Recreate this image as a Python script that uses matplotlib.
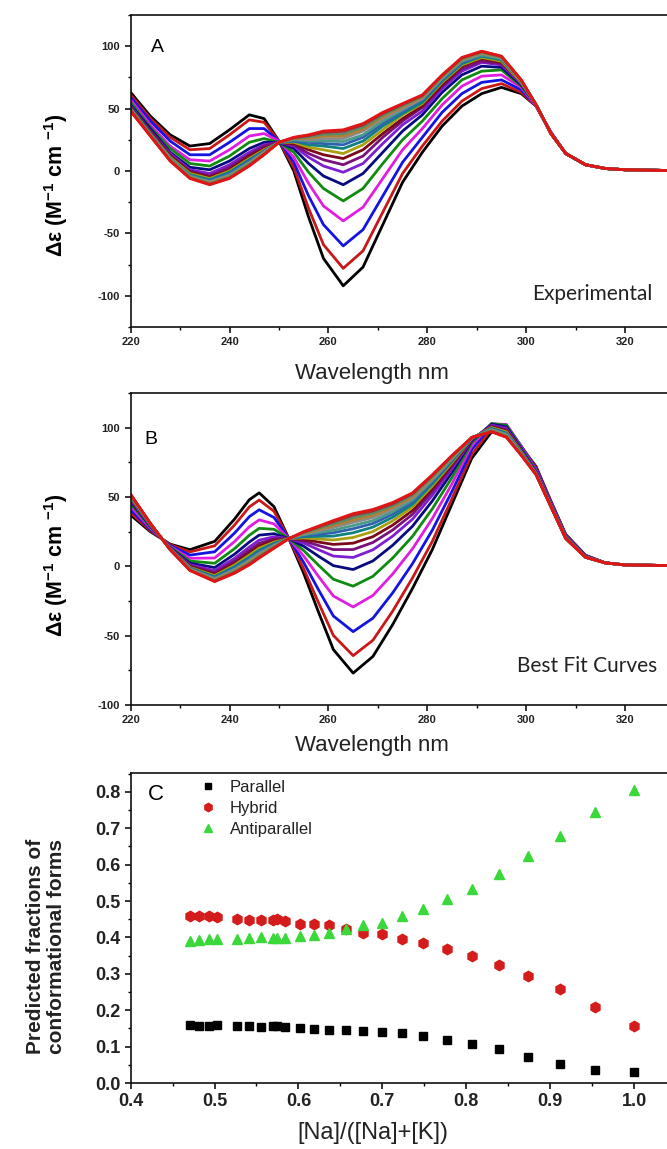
import matplotlib
matplotlib.use('Agg')
import matplotlib.pyplot as plt
from matplotlib import font_manager
from matplotlib.ticker import MultipleLocator

# ---------------- data ----------------
wavelength_a = [220, 224, 228, 232, 236, 240, 244, 247, 250, 253, 256, 259, 263, 267, 271,
                275, 279, 283, 287, 291, 295, 299, 302, 305, 308, 312, 316, 320, 330, 340]

cd_experimental = [
    [63, 44, 29, 20, 22, 33, 45, 42, 24, 0, -37, -70, -92, -77, -43, -9, 15, 36, 52, 62, 67, 62, 52, 31, 14, 5, 2, 1, 0.3, 0],
    [61, 42, 27, 17, 18, 29, 41, 39, 24, 3, -30, -59, -78, -64, -33, -2, 20, 40, 56, 66, 70, 63, 52, 31, 14, 5, 2, 1, 0.3, 0],
    [59, 40, 24, 13, 13, 23, 34, 34, 24, 7, -20, -43, -60, -47, -20, 7, 27, 47, 62, 71, 73, 65, 52, 31, 14, 5, 2, 1, 0.3, 0],
    [57, 37, 20, 9, 8, 17, 28, 30, 24, 11, -10, -28, -40, -29, -6, 17, 34, 53, 68, 76, 77, 67, 52, 31, 14, 5, 2, 1, 0.3, 0],
    [55, 35, 18, 6, 4, 12, 23, 26, 23, 15, -1, -14, -24, -14, 6, 25, 40, 58, 73, 80, 81, 68, 53, 30, 14, 5, 2, 1, 0.3, 0],
    [53, 34, 15, 3, 1, 8, 18, 23, 23, 18, 6, -4, -11, -2, 15, 32, 45, 63, 77, 84, 83, 69, 53, 30, 14, 5, 2, 1, 0.3, 0],
    [52, 32, 14, 1, -2, 5, 15, 21, 23, 20, 11, 4, -1, 6, 22, 37, 48, 66, 80, 87, 85, 70, 53, 30, 14, 5, 2, 1, 0.3, 0],
    [51, 32, 13, 0, -4, 3, 13, 20, 23, 21, 14, 9, 5, 12, 27, 40, 51, 68, 82, 88, 86, 71, 53, 30, 14, 5, 2, 1, 0.3, 0],
    [51, 31, 12, -1, -5, 1, 12, 18, 23, 22, 17, 13, 10, 17, 30, 42, 52, 69, 84, 90, 87, 71, 53, 30, 14, 5, 2, 1, 0.3, 0],
    [50, 30, 11, -2, -6, 0, 10, 17, 23, 23, 19, 17, 14, 21, 33, 45, 54, 71, 85, 91, 88, 71, 53, 30, 14, 5, 2, 1, 0.3, 0],
    [50, 30, 10, -3, -7, -1, 9, 16, 23, 24, 21, 20, 18, 24, 36, 46, 55, 72, 86, 92, 89, 72, 53, 30, 14, 5, 2, 1, 0.3, 0],
    [49, 29, 10, -4, -8, -2, 8, 16, 23, 24, 23, 22, 21, 27, 38, 48, 57, 73, 87, 93, 90, 72, 53, 30, 14, 5, 2, 1, 0.3, 0],
    [49, 29, 10, -4, -8.5, -3, 7, 15, 23, 25, 24, 24, 23.6, 29, 40, 49, 58, 74, 88, 93, 90, 72, 53, 30, 14, 5, 2, 1, 0.3, 0],
    [49, 29, 9, -5, -9, -4, 6, 15, 23, 26, 25, 26, 26, 32, 42, 50, 58, 75, 89, 94, 91, 72, 53, 30, 14, 5, 2, 1, 0.3, 0],
    [48.6, 28.6, 8.8, -5, -9.7, -4.4, 5.6, 14.2, 23, 25.9, 26.4, 27.9, 28, 33.4, 43.4, 51.5, 59.2, 75.4, 89.4, 94.6, 91, 72.6, 53, 30, 14, 5, 2, 1, 0.3, 0],
    [48.4, 28.4, 8.5, -5.4, -10.2, -5, 5, 13.7, 23, 26.3, 27.4, 29.5, 29.9, 35.1, 44.8, 52.4, 59.9, 76, 90, 95.2, 91.4, 72.7, 53, 30, 14, 5, 2, 1, 0.3, 0],
    [48.2, 28.2, 8.2, -5.7, -10.7, -5.6, 4.4, 13.3, 23, 26.7, 28.3, 31, 31.8, 36.9, 46.1, 53.4, 60.5, 76.6, 90.6, 95.7, 91.8, 72.9, 53, 30, 14, 5, 2, 1, 0.3, 0],
    [48, 28, 8, -6, -11, -6, 4, 13, 23, 27, 29, 32, 33, 38, 47, 54, 61, 77, 91, 96, 92, 73, 53, 30, 14, 5, 2, 1, 0.3, 0],
]

wavelength_b = [220, 224, 228, 232, 237, 241, 244, 246, 249, 252, 255, 258, 261, 265, 269,
                273, 277, 281, 285, 289, 293, 296, 299, 302, 305, 308, 312, 316, 320, 340]

cd_best_fit = [
    [37, 25, 16, 12, 18, 34, 48, 53, 43, 20, -5, -33, -60, -77, -65, -42, -16, 12, 45, 78, 97, 99, 86, 72, 47, 23, 8, 2.5, 1, 0],
    [38.7, 25.7, 15.6, 10.4, 14.8, 29.7, 42.8, 47.8, 39.7, 20, -1.7, -26.2, -49.8, -64.4, -53.3, -32.3, -8.4, 17.9, 48.9, 80.8, 99.3, 100.6, 86.5, 71.3, 46.6, 22.7, 7.8, 2.5, 1, 0],
    [40.9, 26.6, 15, 8.1, 10.5, 23.9, 35.8, 40.8, 35.2, 20, 2.8, -16.9, -35.8, -47.1, -37.4, -19.1, 1.9, 26, 54.1, 84.2, 101.6, 102, 86.7, 70.4, 46, 22.2, 7.6, 2.5, 1, 0],
    [43.2, 27.5, 14.3, 5.8, 6, 17.8, 28.5, 33.5, 30.6, 20, 7.5, -7.3, -21.4, -29.3, -21, -5.5, 12.6, 34.4, 59.5, 87.1, 102.8, 102.3, 86.4, 69.5, 45.3, 21.8, 7.4, 2.5, 1, 0],
    [45.2, 28.3, 13.8, 3.8, 2.2, 12.7, 22.4, 27.4, 26.7, 20, 11.4, 0.8, -9.3, -14.3, -7.2, 6, 21.6, 41.4, 64.1, 89.2, 103, 101.7, 85.7, 68.7, 44.8, 21.4, 7.2, 2.5, 1, 0],
    [46.8, 28.9, 13.4, 2.3, -0.9, 8.7, 17.5, 22.5, 23.5, 20, 14.5, 7.3, 0.5, -2.3, 3.9, 15.2, 28.9, 47.1, 67.8, 90.5, 102.5, 100.6, 84.9, 68.1, 44.4, 21.1, 7, 2.5, 1, 0],
    [47.9, 29.4, 13.1, 1.1, -3, 5.7, 13.9, 18.9, 21.3, 20, 16.8, 12, 7.4, 6.4, 11.9, 21.8, 34, 51.2, 70.4, 91.3, 101.8, 99.5, 84.1, 67.7, 44.1, 20.8, 6.9, 2.5, 1, 0],
    [48.6, 29.7, 12.9, 0.4, -4.5, 3.8, 11.6, 16.6, 19.8, 20, 18.3, 15, 12.1, 12.1, 17.2, 26.2, 37.5, 53.9, 72.1, 91.7, 101.2, 98.6, 83.5, 67.4, 43.9, 20.7, 6.8, 2.5, 1, 0],
    [49.2, 29.9, 12.7, -0.2, -5.6, 2.2, 9.7, 14.7, 18.6, 20, 19.5, 17.5, 15.8, 16.7, 21.4, 29.7, 40.2, 56, 73.5, 92, 100.6, 97.7, 82.9, 67.1, 43.7, 20.6, 6.8, 2.5, 1, 0],
    [49.8, 30.1, 12.6, -0.8, -6.7, 0.9, 8.1, 13.1, 17.5, 20, 20.5, 19.7, 19, 20.8, 25.1, 32.8, 42.7, 57.9, 74.8, 92.3, 100.1, 97, 82.5, 66.9, 43.6, 20.5, 6.7, 2.5, 1, 0],
    [50.2, 30.3, 12.5, -1.2, -7.5, -0.3, 6.6, 11.6, 16.6, 20, 21.4, 21.6, 21.8, 24.2, 28.3, 35.4, 44.7, 59.5, 75.8, 92.5, 99.5, 96.2, 82, 66.7, 43.5, 20.4, 6.7, 2.5, 1, 0],
    [50.6, 30.4, 12.4, -1.6, -8.2, -1.3, 5.5, 10.5, 15.9, 20, 22.2, 23.1, 24.2, 27.1, 30.9, 37.6, 46.4, 60.9, 76.7, 92.7, 99.1, 95.7, 81.7, 66.6, 43.4, 20.3, 6.6, 2.5, 1, 0],
    [50.9, 30.6, 12.3, -1.9, -8.8, -2.1, 4.5, 9.5, 15.3, 20, 22.8, 24.4, 26, 29.4, 33, 39.4, 47.8, 62, 77.4, 92.8, 98.7, 95.2, 81.3, 66.5, 43.3, 20.2, 6.6, 2.5, 1, 0],
    [51.2, 30.7, 12.2, -2.2, -9.4, -2.9, 3.6, 8.6, 14.7, 20, 23.4, 25.6, 27.9, 31.7, 35.2, 41.2, 49.2, 63, 78.1, 92.8, 98.2, 94.5, 80.9, 66.3, 43.2, 20.2, 6.6, 2.5, 1, 0],
    [51.4, 30.8, 12.2, -2.4, -9.8, -3.4, 2.9, 7.9, 14.2, 20, 23.8, 26.5, 29.3, 33.4, 36.8, 42.5, 50.2, 63.8, 78.6, 92.9, 97.9, 94.1, 80.7, 66.2, 43.2, 20.1, 6.6, 2.5, 1, 0],
    [51.6, 30.9, 12.1, -2.6, -10.3, -4, 2.2, 7.2, 13.8, 20, 24.3, 27.5, 30.7, 35.1, 38.4, 43.8, 51.3, 64.7, 79.1, 92.9, 97.6, 93.8, 80.5, 66.2, 43.1, 20.1, 6.5, 2.5, 1, 0],
    [51.9, 30.9, 12, -2.9, -10.7, -4.6, 1.5, 6.5, 13.3, 20, 24.7, 28.4, 32.1, 36.9, 39.9, 45.1, 52.3, 65.5, 79.7, 92.9, 97.2, 93.3, 80.2, 66.1, 43, 20, 6.5, 2.5, 1, 0],
    [52, 31, 12, -3, -11, -5, 1, 6, 13, 20, 25, 29, 33, 38, 41, 46, 53, 66, 80, 93, 97, 93, 80, 66, 43, 20, 6.5, 2.5, 1, 0],
]

curve_colors = ['#000000', '#c81818', '#1414e0', '#e01ee0', '#108a10', '#0a0a80',
                '#7f1fd0', '#7a107a', '#7a0a1a', '#a8a010', '#108080', '#3060b0',
                '#4a9a8a', '#8a8a8a', '#b08030', '#5a8a6a', '#a03030', '#e01515']

na_fraction = [0.471, 0.482, 0.493, 0.503, 0.527, 0.541, 0.555, 0.570, 0.574, 0.584,
               0.602, 0.618, 0.637, 0.657, 0.677, 0.700, 0.724, 0.749, 0.777, 0.807,
               0.839, 0.874, 0.912, 0.954, 1.000]
frac_parallel = [0.160, 0.156, 0.158, 0.159, 0.158, 0.157, 0.154, 0.156, 0.157, 0.153,
                 0.151, 0.149, 0.147, 0.145, 0.143, 0.140, 0.137, 0.128, 0.119, 0.107,
                 0.093, 0.072, 0.052, 0.036, 0.031]
frac_hybrid = [0.460, 0.459, 0.458, 0.457, 0.451, 0.449, 0.448, 0.448, 0.450, 0.444,
               0.438, 0.436, 0.433, 0.423, 0.413, 0.409, 0.396, 0.385, 0.368, 0.350,
               0.325, 0.295, 0.258, 0.209, 0.156]
frac_antiparallel = [0.390, 0.392, 0.395, 0.396, 0.397, 0.399, 0.400, 0.398, 0.399, 0.398,
                     0.404, 0.406, 0.411, 0.423, 0.434, 0.441, 0.459, 0.479, 0.505, 0.534,
                     0.575, 0.623, 0.680, 0.746, 0.806]
series_labels = ['Parallel', 'Hybrid', 'Antiparallel']

# ---------------- styling ----------------
names = {f.name for f in font_manager.fontManager.ttflist}
SANS = 'Liberation Sans' if 'Liberation Sans' in names else 'DejaVu Sans'
NARROW = 'Liberation Sans Narrow' if 'Liberation Sans Narrow' in names else SANS
CAL = 'Lato' if 'Lato' in names else SANS

plt.rcParams['font.family'] = [SANS, 'DejaVu Sans']
plt.rcParams['axes.unicode_minus'] = False
plt.rcParams['mathtext.fontset'] = 'custom'
plt.rcParams['mathtext.rm'] = SANS + ':bold'
plt.rcParams['mathtext.it'] = SANS + ':bold'
plt.rcParams['mathtext.bf'] = SANS + ':bold'

W, H = 667, 1149
fig = plt.figure(figsize=(W / 100, H / 100), dpi=100)


def box(left, top, right, bottom):
    return [left / W, 1 - bottom / H, (right - left) / W, (bottom - top) / H]


def style_axes(ax, tick_font, tick_size):
    for s in ax.spines.values():
        s.set_linewidth(1.2)
        s.set_color('#111111')
    ax.tick_params(which='major', direction='out', length=4.5, width=1.1, pad=3)
    ax.tick_params(which='minor', direction='out', length=2.5, width=1.0)
    ax.tick_params(top=False, right=False, which='both')
    for lab in ax.get_xticklabels() + ax.get_yticklabels():
        lab.set_fontfamily(tick_font)
        lab.set_fontweight('bold')
        lab.set_fontsize(tick_size)
        lab.set_color('#222222')


def cd_panel(ax, wl, spectra, ylim):
    for spec, col in zip(spectra, curve_colors):
        ax.plot(wl, spec, color=col, lw=2.0, solid_joinstyle='round',
                solid_capstyle='round')
    ax.set_xlim(220, 340)
    ax.set_ylim(*ylim)
    ax.set_xticks([220, 240, 260, 280, 300, 320])
    ax.xaxis.set_minor_locator(MultipleLocator(10))
    ax.set_yticks([-100, -50, 0, 50, 100])
    ax.yaxis.set_minor_locator(MultipleLocator(25))
    style_axes(ax, NARROW, 8)


# Panel A
axA = fig.add_axes(box(130.6, 15, 724, 327))
cd_panel(axA, wavelength_a, cd_experimental, (-125, 125))
# Panel B
axB = fig.add_axes(box(130.6, 393, 724, 705))
cd_panel(axB, wavelength_b, cd_best_fit, (-100, 125))

ylab = 'Δε (M$^{-1}$ cm $^{-1}$)'
fig.text(56 / W, 1 - 185 / H, ylab, rotation=90, ha='center', va='center',
         fontsize=15.5, fontweight='bold', family=SANS)
fig.text(56 / W, 1 - 565 / H, ylab, rotation=90, ha='center', va='center',
         fontsize=15.5, fontweight='bold', family=SANS)
fig.text(372 / W, 1 - 373 / H, 'Wavelength nm', ha='center', va='center',
         fontsize=16, family=SANS, color='#222222')
fig.text(372 / W, 1 - 746 / H, 'Wavelength nm', ha='center', va='center',
         fontsize=16, family=SANS, color='#222222')
fig.text(157 / W, 1 - 47 / H, 'A', ha='center', va='center', fontsize=14, family=SANS)
fig.text(151 / W, 1 - 439 / H, 'B', ha='center', va='center', fontsize=14, family=SANS)
fig.text(653 / W, 1 - 294 / H, 'Experimental', ha='right', va='center',
         fontsize=15, family=CAL, color='#222222')
fig.text(657 / W, 1 - 666 / H, 'Best Fit Curves', ha='right', va='center',
         fontsize=15, family=CAL, color='#222222')

# Panel C
axC = fig.add_axes(box(130.6, 773, 718, 1083))
axC.plot(na_fraction, frac_parallel, linestyle='none', marker='s', ms=6,
         color='#000000', label=series_labels[0])
axC.plot(na_fraction, frac_hybrid, linestyle='none', marker='h', ms=7.5,
         color='#d41c1c', label=series_labels[1])
axC.plot(na_fraction, frac_antiparallel, linestyle='none', marker='^', ms=7.5,
         color='#3ad83a', label=series_labels[2])
axC.set_xlim(0.4, 1.1)
axC.set_ylim(0.0, 0.852)
axC.set_xticks([0.4, 0.5, 0.6, 0.7, 0.8, 0.9, 1.0])
axC.xaxis.set_minor_locator(MultipleLocator(0.05))
axC.set_yticks([0.0, 0.1, 0.2, 0.3, 0.4, 0.5, 0.6, 0.7, 0.8])
axC.yaxis.set_minor_locator(MultipleLocator(0.05))
axC.xaxis.set_major_formatter(matplotlib.ticker.FormatStrFormatter('%.1f'))
axC.yaxis.set_major_formatter(matplotlib.ticker.FormatStrFormatter('%.1f'))
style_axes(axC, SANS, 13)

leg = axC.legend(loc='upper left', bbox_to_anchor=(200 / W, 1 - 780 / H),
                 bbox_transform=fig.transFigure, frameon=False, fontsize=12,
                 handlelength=1.0, handletextpad=0.8, labelspacing=0.35,
                 borderpad=0, borderaxespad=0, markerscale=0.8)
for t in leg.get_texts():
    t.set_color('#222222')

fig.text(156 / W, 1 - 795 / H, 'C', ha='center', va='center', fontsize=16, family=SANS)
fig.text(46 / W, 1 - 946 / H, 'Predicted fractions of\nconformational forms',
         rotation=90, ha='center', va='center', fontsize=15, fontweight='bold',
         family=SANS, linespacing=1.15, color='#222222')
fig.text(373 / W, 1 - 1133 / H, '[Na]/([Na]+[K])', ha='center', va='center',
         fontsize=17, family=SANS, color='#222222')

fig.savefig('out.png', dpi=100)
